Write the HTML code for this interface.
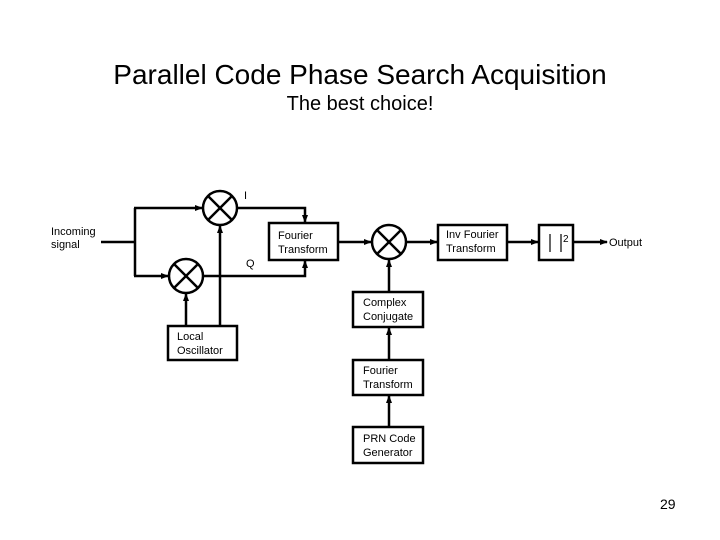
<!DOCTYPE html>
<html><head><style>
body{margin:0;background:#fff;}
.t{position:absolute;left:0;width:720px;text-align:center;font-family:"Liberation Sans",sans-serif;color:#000;}
</style></head><body>
<div style="position:relative;width:720px;height:540px;overflow:hidden">
<div class="t" style="top:58px;font-size:28px;line-height:34px">Parallel Code Phase Search Acquisition</div>
<div class="t" style="top:92px;font-size:20px;line-height:24px">The best choice!</div>
<div style="position:absolute;left:660px;top:496px;font:14px 'Liberation Sans',sans-serif">29</div>
<svg width="720" height="540" style="position:absolute;left:0;top:0" font-family="Liberation Sans, sans-serif" font-size="11">
<defs><marker id="a" markerWidth="8" markerHeight="8" refX="7" refY="4" orient="auto" markerUnits="userSpaceOnUse"><path d="M0,1 L8,4 L0,7z" fill="#000"/></marker></defs>
<g stroke="#000" stroke-width="2.5" fill="none">
<line x1="101" y1="242" x2="135" y2="242"/>
<polyline points="135,208 135,276"/>
<line x1="134" y1="208" x2="202" y2="208" marker-end="url(#a)"/>
<line x1="134" y1="276" x2="168" y2="276" marker-end="url(#a)"/>
<circle cx="220" cy="208" r="17"/>
<circle cx="186" cy="276" r="17"/>
<circle cx="389" cy="242" r="17"/>
<line x1="208" y1="196" x2="232" y2="220"/><line x1="232" y1="196" x2="208" y2="220"/>
<line x1="174" y1="264" x2="198" y2="288"/><line x1="198" y1="264" x2="174" y2="288"/>
<line x1="377" y1="230" x2="401" y2="254"/><line x1="401" y1="230" x2="377" y2="254"/>
<rect x="168" y="326" width="69" height="34"/>
<line x1="220" y1="326" x2="220" y2="226" marker-end="url(#a)"/>
<line x1="186" y1="326" x2="186" y2="294" marker-end="url(#a)"/>
<polyline points="237,208 305,208 305,222" marker-end="url(#a)"/>
<polyline points="203,276 305,276 305,261" marker-end="url(#a)"/>
<rect x="269" y="223" width="69" height="37"/>
<line x1="338" y1="242" x2="371" y2="242" marker-end="url(#a)"/>
<line x1="406" y1="242" x2="437" y2="242" marker-end="url(#a)"/>
<rect x="438" y="225" width="69" height="35"/>
<line x1="507" y1="242" x2="538" y2="242" marker-end="url(#a)"/>
<rect x="539" y="225" width="34" height="35"/>
<line x1="573" y1="242" x2="607" y2="242" marker-end="url(#a)"/>
<rect x="353" y="292" width="70" height="35"/>
<line x1="389" y1="292" x2="389" y2="260" marker-end="url(#a)"/>
<rect x="353" y="360" width="70" height="35"/>
<line x1="389" y1="360" x2="389" y2="328" marker-end="url(#a)"/>
<rect x="353" y="427" width="70" height="36"/>
<line x1="389" y1="427" x2="389" y2="396" marker-end="url(#a)"/>
</g>
<g stroke="#000" stroke-width="1.2">
<line x1="550" y1="234" x2="550" y2="252"/><line x1="561" y1="234" x2="561" y2="252"/>
</g>
<g fill="#000">
<text x="51" y="235">Incoming</text><text x="51" y="248">signal</text>
<text x="244" y="199">I</text><text x="246" y="267">Q</text>
<text x="177" y="340">Local</text><text x="177" y="354">Oscillator</text>
<text x="278" y="239">Fourier</text><text x="278" y="253">Transform</text>
<text x="446" y="238">Inv Fourier</text><text x="446" y="252">Transform</text>
<text x="563" y="242" font-size="10">2</text>
<text x="609" y="246">Output</text>
<text x="363" y="306">Complex</text><text x="363" y="320">Conjugate</text>
<text x="363" y="374">Fourier</text><text x="363" y="388">Transform</text>
<text x="363" y="442">PRN Code</text><text x="363" y="456">Generator</text>
</g>
</svg>
</div>
</body></html>
